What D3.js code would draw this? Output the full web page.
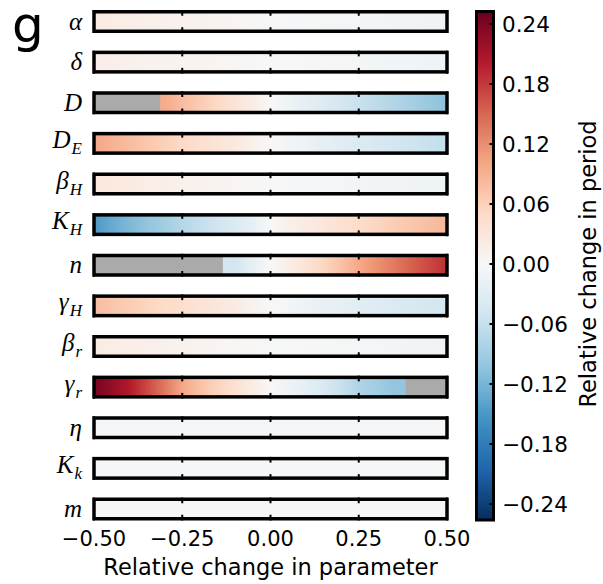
<!DOCTYPE html>
<html>
<head>
<meta charset="utf-8">
<script src="https://cdn.jsdelivr.net/npm/d3@7"></script>
<style>
  body { margin: 0; background: #ffffff; }
  svg { display: block; }
</style>
</head>
<body>
<svg id="chart" width="603" height="584"></svg>
<script>
// Relative parameter change at which each row is sampled
const paramGrid = [-0.5, -0.45, -0.4, -0.35, -0.3, -0.25, -0.2, -0.15, -0.1, -0.05,
                   0, 0.05, 0.1, 0.15, 0.2, 0.25, 0.3, 0.35, 0.4, 0.45, 0.5];

// Parameter names (italic symbol + subscript)
const labelMain = ["α", "δ", "D", "D", "β", "K", "n", "γ", "β", "γ", "η", "K", "m"];
const labelSub  = ["",  "",  "",  "E", "H", "H", "",  "H", "r", "r", "",  "k", ""];

// Relative change in period for each parameter (null = no oscillation)
const alpha  = [0.021, 0.019, 0.017, 0.015, 0.013, 0.011, 0.009, 0.007, 0.005, 0.003, 0.0,
                -0.002, -0.003, -0.004, -0.005, -0.006, -0.007, -0.008, -0.009, -0.010, -0.011];
const delta  = [0.016, 0.014, 0.013, 0.011, 0.010, 0.008, 0.007, 0.005, 0.004, 0.002, 0.0,
                -0.001, -0.002, -0.004, -0.005, -0.006, -0.007, -0.008, -0.009, -0.010, -0.011];
const D      = [null, null, null, null, 0.095, 0.080, 0.066, 0.052, 0.036, 0.018, 0.0,
                -0.012, -0.024, -0.035, -0.045, -0.057, -0.067, -0.076, -0.086, -0.096, -0.106];
const D_E    = [0.100, 0.090, 0.080, 0.070, 0.061, 0.052, 0.043, 0.034, 0.025, 0.012, 0.0,
                -0.008, -0.015, -0.022, -0.029, -0.036, -0.042, -0.048, -0.053, -0.058, -0.063];
const beta_H = [0.028, 0.025, 0.022, 0.019, 0.016, 0.013, 0.010, 0.008, 0.005, 0.003, 0.0,
                -0.002, -0.003, -0.005, -0.006, -0.007, -0.008, -0.009, -0.010, -0.011, -0.012];
const K_H    = [-0.148, -0.130, -0.115, -0.102, -0.090, -0.074, -0.062, -0.050, -0.038, -0.022, 0.0,
                0.012, 0.022, 0.031, 0.040, 0.048, 0.056, 0.064, 0.071, 0.078, 0.085];
const n      = [null, null, null, null, null, null, null, null, -0.048, -0.022, 0.0,
                0.017, 0.035, 0.055, 0.076, 0.098, 0.116, 0.134, 0.152, 0.170, 0.188];
const gamma_H = [0.080, 0.072, 0.064, 0.057, 0.050, 0.043, 0.036, 0.029, 0.021, 0.011, 0.0,
                 -0.007, -0.013, -0.019, -0.024, -0.029, -0.033, -0.037, -0.041, -0.044, -0.047];
const beta_r = [0.020, 0.018, 0.016, 0.014, 0.012, 0.010, 0.008, 0.006, 0.004, 0.002, 0.0,
                -0.001, -0.002, -0.003, -0.004, -0.005, -0.006, -0.007, -0.008, -0.009, -0.010];
const gamma_r = [0.245, 0.225, 0.204, 0.170, 0.135, 0.100, 0.076, 0.057, 0.040, 0.020, 0.0,
                 -0.012, -0.024, -0.040, -0.058, -0.078, -0.090, -0.101, null, null, null];
const eta    = [-0.003, -0.003, -0.003, -0.003, -0.003, -0.003, -0.003, -0.003, -0.003, -0.003, -0.003,
                -0.003, -0.003, -0.003, -0.003, -0.003, -0.003, -0.003, -0.003, -0.003, -0.003];
const K_k    = [-0.003, -0.003, -0.003, -0.003, -0.003, -0.003, -0.003, -0.003, -0.003, -0.003, -0.003,
                -0.003, -0.003, -0.003, -0.003, -0.003, -0.003, -0.003, -0.003, -0.003, -0.003];
const m      = [-0.003, -0.003, -0.003, -0.003, -0.003, -0.003, -0.003, -0.003, -0.003, -0.003, -0.003,
                -0.003, -0.003, -0.003, -0.003, -0.003, -0.003, -0.003, -0.003, -0.003, -0.003];

// Range of parameter change over which an oscillation exists
const validFrom = [-0.5, -0.5, -0.3125, -0.5, -0.5, -0.5, -0.135, -0.5, -0.5, -0.5, -0.5, -0.5, -0.5];
const validTo   = [0.5, 0.5, 0.5, 0.5, 0.5, 0.5, 0.5, 0.5, 0.5, 0.383, 0.5, 0.5, 0.5];

const xTicks = [-0.5, -0.25, 0, 0.25, 0.5];
const cbTicks = [-0.24, -0.18, -0.12, -0.06, 0, 0.06, 0.12, 0.18, 0.24];
const vmax = 0.255;

const rows = [alpha, delta, D, D_E, beta_H, K_H, n, gamma_H, beta_r, gamma_r, eta, K_k, m];

// ---------------------------------------------------------------------------
const svg = d3.select("#chart");
const fmt = v => d3.format(".2f")(v).replace("-", "\u2212");

const x = d3.scaleLinear().domain([-0.5, 0.5]).range([94, 447]);
const y = d3.scalePoint().domain(d3.range(rows.length)).range([21.5, 509]);
const barH = 19.5;
const frameW = 3.5;

// Diverging red/blue colormap (red = longer period)
const rdbu = ["#053061", "#2166ac", "#4393c3", "#92c5de", "#d1e5f0", "#f7f7f7",
              "#fddbc7", "#f4a582", "#d6604d", "#b2182b", "#67001f"];
const color = d3.scaleLinear()
  .domain(d3.range(rdbu.length).map(i => -vmax + i * 2 * vmax / (rdbu.length - 1)))
  .range(rdbu)
  .interpolate(d3.interpolateRgb)
  .clamp(true);

const defs = svg.append("defs");

// Panel letter
svg.append("text")
  .attr("x", 12).attr("y", 42)
  .attr("font-family", "DejaVu Sans, sans-serif")
  .attr("font-size", 50)
  .text("g");

// One heat strip per parameter
rows.forEach((vals, i) => {
  const cy = y(i);
  const top = cy - barH / 2;

  const grad = defs.append("linearGradient")
    .attr("id", "grad" + i)
    .attr("gradientUnits", "userSpaceOnUse")
    .attr("x1", x(-0.5)).attr("x2", x(0.5))
    .attr("y1", 0).attr("y2", 0);
  vals.forEach((v, j) => {
    if (v === null) return;
    grad.append("stop")
      .attr("offset", (x(paramGrid[j]) - x(-0.5)) / (x(0.5) - x(-0.5)))
      .attr("stop-color", color(v));
  });

  const g = svg.append("g");
  // no-oscillation background
  g.append("rect")
    .attr("x", x(-0.5)).attr("y", top)
    .attr("width", x(0.5) - x(-0.5)).attr("height", barH)
    .attr("fill", "#aaaaaa");
  // period change
  g.append("rect")
    .attr("x", x(validFrom[i])).attr("y", top)
    .attr("width", x(validTo[i]) - x(validFrom[i])).attr("height", barH)
    .attr("fill", `url(#grad${i})`);
  // frame
  g.append("rect")
    .attr("x", x(-0.5)).attr("y", top)
    .attr("width", x(0.5) - x(-0.5)).attr("height", barH)
    .attr("fill", "none")
    .attr("stroke", "#000")
    .attr("stroke-width", frameW);
  // inward ticks at top and bottom
  xTicks.forEach(t => {
    g.append("line")
      .attr("x1", x(t)).attr("x2", x(t))
      .attr("y1", top - frameW / 2).attr("y2", top + 4)
      .attr("stroke", "#000").attr("stroke-width", 2);
    g.append("line")
      .attr("x1", x(t)).attr("x2", x(t))
      .attr("y1", top + barH + frameW / 2).attr("y2", top + barH - 4)
      .attr("stroke", "#000").attr("stroke-width", 2);
  });

  // parameter label
  const hasSub = labelSub[i] !== "";
  const lab = svg.append("text")
    .attr("x", 82)
    .attr("y", cy + (hasSub ? 4.5 : 8))
    .attr("text-anchor", "end")
    .attr("font-family", "Liberation Serif, DejaVu Serif, serif")
    .attr("font-style", "italic")
    .attr("font-size", 25);
  lab.append("tspan").text(labelMain[i]);
  if (hasSub) {
    lab.append("tspan")
      .attr("font-size", 17)
      .attr("dx", 1)
      .attr("dy", 6)
      .text(labelSub[i]);
  }
});

// x tick labels
svg.append("g")
  .selectAll("text")
  .data(xTicks)
  .join("text")
  .attr("x", d => x(d))
  .attr("y", 545.5)
  .attr("text-anchor", "middle")
  .attr("font-family", "DejaVu Sans, sans-serif")
  .attr("font-size", 21)
  .text(fmt);

svg.append("text")
  .attr("x", (x(-0.5) + x(0.5)) / 2)
  .attr("y", 575)
  .attr("text-anchor", "middle")
  .attr("font-family", "DejaVu Sans, sans-serif")
  .attr("font-size", 22.5)
  .text("Relative change in parameter");

// ---------------------------------------------------------------------------
// Colorbar
const cbX0 = 476.5, cbX1 = 493.5;
const cbTop = 11.5, cbBot = 520;
const cy = d3.scaleLinear().domain([-vmax, vmax]).range([519, 9]);

const steps = d3.range(256).map(k => -vmax + (k + 0.5) * 2 * vmax / 256);
const stepH = (cy(-vmax) - cy(vmax)) / 256;
svg.append("g")
  .selectAll("rect")
  .data(steps)
  .join("rect")
  .attr("x", cbX0)
  .attr("y", d => Math.max(cbTop, cy(d) - stepH / 2 - 0.3))
  .attr("width", cbX1 - cbX0)
  .attr("height", stepH + 0.6)
  .attr("fill", d => color(d));

svg.append("rect")
  .attr("x", cbX0).attr("y", cbTop)
  .attr("width", cbX1 - cbX0).attr("height", cbBot - cbTop)
  .attr("fill", "none")
  .attr("stroke", "#000")
  .attr("stroke-width", 3);

const cbG = svg.append("g");
cbG.selectAll("line")
  .data(cbTicks)
  .join("line")
  .attr("x1", cbX1).attr("x2", cbX1 - 4)
  .attr("y1", d => cy(d)).attr("y2", d => cy(d))
  .attr("stroke", "#000").attr("stroke-width", 2);
cbG.selectAll("text")
  .data(cbTicks)
  .join("text")
  .attr("x", 502)
  .attr("y", d => cy(d))
  .attr("dy", "0.36em")
  .attr("font-family", "DejaVu Sans, sans-serif")
  .attr("font-size", 21.5)
  .text(fmt);

svg.append("text")
  .attr("transform", "translate(588,264) rotate(-90)")
  .attr("text-anchor", "middle")
  .attr("dy", "0.36em")
  .attr("font-family", "DejaVu Sans, sans-serif")
  .attr("font-size", 22.5)
  .text("Relative change in period");
</script>
</body>
</html>
